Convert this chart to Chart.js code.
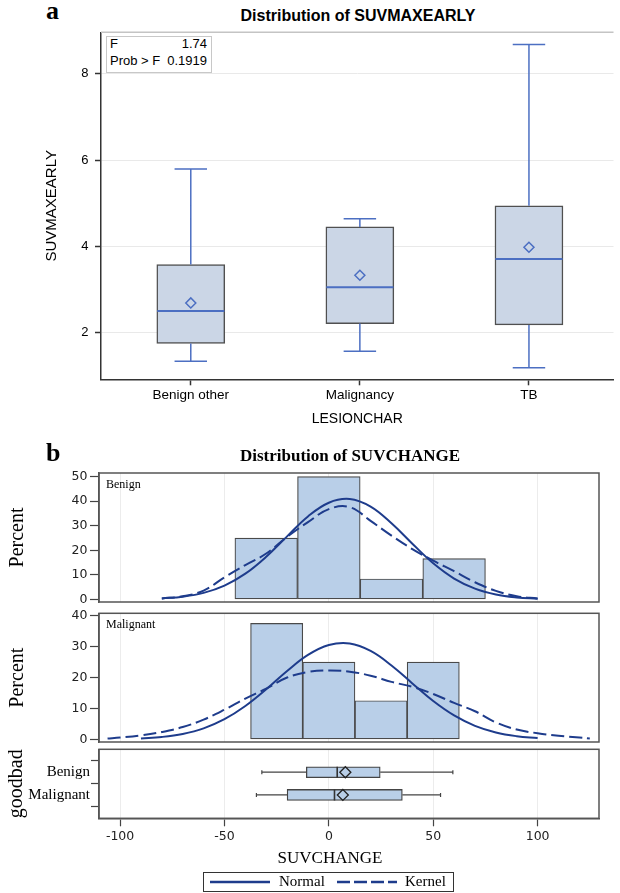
<!DOCTYPE html>
<html>
<head>
<meta charset="utf-8">
<title>Distribution of SUVMAXEARLY / SUVCHANGE</title>
<script src="https://cdn.jsdelivr.net/npm/chart.js@4.4.0/dist/chart.umd.min.js"></script>
<style>
  body { margin: 0; background: #fff; }
  #page { position: relative; width: 620px; height: 893px; overflow: hidden; background: #fff; }
  canvas, .lbl { position: absolute; }
  .lbl { white-space: nowrap; line-height: 1; color: #000; }
  .serif { font-family: "Liberation Serif", "Times New Roman", serif; }
  .sans { font-family: "Liberation Sans", Arial, sans-serif; }
</style>
</head>
<body>
<div id="page">
  <div class="lbl serif" style="left:46px;top:-2px;font-size:26px;font-weight:bold;">a</div>
  <div class="lbl sans" style="left:358px;top:8px;font-size:16px;font-weight:bold;transform:translateX(-50%);">Distribution of SUVMAXEARLY</div>

  <canvas id="chartA" width="620" height="440" style="left:0;top:0;"></canvas>

  <div class="lbl" style="left:106px;top:36px;width:106px;height:37px;border:1px solid #c8c8c8;box-sizing:border-box;background:#fff;"></div>
  <div class="lbl sans" style="left:110px;top:37px;width:97px;font-size:13px;display:flex;justify-content:space-between;"><span>F</span><span>1.74</span></div>
  <div class="lbl sans" style="left:110px;top:54px;width:97px;font-size:13px;display:flex;justify-content:space-between;"><span>Prob &gt; F</span><span>0.1919</span></div>

  <div class="lbl serif" style="left:46px;top:440px;font-size:26px;font-weight:bold;">b</div>
  <div class="lbl serif" style="left:350px;top:447px;font-size:17px;font-weight:bold;transform:translateX(-50%);">Distribution of SUVCHANGE</div>

  <canvas id="histBenign" width="620" height="150" style="left:0;top:462px;"></canvas>
  <canvas id="histMalig" width="620" height="150" style="left:0;top:602px;"></canvas>
  <canvas id="boxChange" width="620" height="114" style="left:0;top:738px;"></canvas>

  <div class="lbl serif" style="left:106px;top:478px;font-size:12px;">Benign</div>
  <div class="lbl serif" style="left:106px;top:618px;font-size:12px;">Malignant</div>
  <div class="lbl serif" style="left:330px;top:849px;font-size:17px;transform:translateX(-50%);">SUVCHANGE</div>

  <div class="lbl" style="left:203px;top:872px;width:251px;height:20px;border:1.5px solid #333;box-sizing:border-box;"></div>
  <svg class="lbl" style="left:208px;top:878px;" width="192" height="8">
    <line x1="2" y1="4" x2="62" y2="4" stroke="#1e3c8c" stroke-width="2.5"/>
    <line x1="129" y1="4" x2="189" y2="4" stroke="#1e3c8c" stroke-width="2.5" stroke-dasharray="13,4"/>
  </svg>
  <div class="lbl serif" style="left:279px;top:874px;font-size:15px;">Normal</div>
  <div class="lbl serif" style="left:405px;top:874px;font-size:15px;">Kernel</div>
</div>

<script>
// panel a: SUVMAXEARLY by LESIONCHAR (box plot stats)
const lesionCats  = ['Benign other', 'Malignancy', 'TB'];
const earlyMin    = [1.34, 1.57, 1.19];
const earlyQ1     = [1.75, 2.21, 2.18];
const earlyMedian = [2.50, 3.05, 3.71];
const earlyQ3     = [3.58, 4.45, 4.94];
const earlyMax    = [5.79, 4.64, 8.68];
const earlyMean   = [2.69, 3.33, 3.98];
const earlyTicks  = [2, 4, 6, 8];

// panel b: SUVCHANGE histograms (percent per bin, bin centres)
const goodbad     = ['Benign', 'Malignant'];
const benignBins  = [-30, 0, 30, 60];
const benignPct   = [25, 50, 8.33, 16.67];
const maligBins   = [-25, 0, 25, 50];
const maligPct    = [37.5, 25, 12.5, 25];

// fitted curves
const benignNormX = [-80, -70, -60, -50, -40, -30, -20, -10, 0, 10, 20, 30, 40, 50, 60, 70, 80, 90, 100];
const benignNormY = [0.43, 1.14, 2.68, 5.63, 10.5, 17.4, 25.7, 33.8, 39.4, 40.9, 37.8, 31.0, 22.7, 14.7, 8.5, 4.4, 2.0, 0.81, 0.29];
const benignKernX = [-80, -70, -60, -50, -40, -30, -20, -10, 0, 10, 20, 30, 40, 50, 60, 70, 80, 90, 100];
const benignKernY = [0.4, 1.3, 3.6, 9, 14, 18.7, 25.5, 31.5, 36.8, 37.6, 32, 26, 20.5, 15.8, 11.5, 7, 3.5, 1.3, 0.4];
const maligNormX  = [-90, -80, -70, -60, -50, -40, -30, -20, -10, 0, 10, 20, 30, 40, 50, 60, 70, 80, 90, 100];
const maligNormY  = [0.33, 0.8, 1.78, 3.58, 6.53, 10.8, 16.2, 22.1, 27.3, 30.5, 31.0, 28.6, 23.9, 18.1, 12.4, 7.75, 4.39, 2.25, 1.05, 0.44];
const maligKernX  = [-106, -100, -90, -80, -70, -60, -50, -40, -30, -20, -10, 0, 10, 20, 30, 40, 50, 60, 70, 80, 90, 100, 110, 120, 125];
const maligKernY  = [0.3, 0.6, 1.3, 2.4, 4, 6.4, 9.6, 13.2, 16.4, 20, 21.8, 22.3, 21.9, 20.6, 18.6, 17, 14.7, 11.8, 9.1, 5.5, 3.2, 2, 1.2, 0.6, 0.3];

// goodbad box plots of SUVCHANGE
const chgMin    = [-32.1, -34.7];
const chgQ1     = [-10.8, -20.0];
const chgMedian = [4.0, 2.7];
const chgQ3     = [24.6, 35.2];
const chgMax    = [59.4, 53.5];
const chgMean   = [7.9, 6.7];

const changeTicks  = [-100, -50, 0, 50, 100];
const benignTicks  = [0, 10, 20, 30, 40, 50];
const maligTicks   = [0, 10, 20, 30, 40];

const SANS = '"Liberation Sans", Arial, sans-serif';
const SERIF = '"Liberation Serif", "Times New Roman", serif';
const TICKFONT = '"DejaVu Sans", sans-serif';
const NAVY = '#1e3c8c';
const BLUE = '#4c6fc2';

// frame / top border drawn around the plot area
const framePlugin = {
  id: 'frame',
  afterDatasetsDraw(chart, args, opts) {
    const { ctx, chartArea: a } = chart;
    ctx.save();
    ctx.strokeStyle = opts.color;
    ctx.lineWidth = opts.width;
    if (opts.full) {
      ctx.strokeRect(a.left, a.top, a.width, a.height);
    } else {
      ctx.beginPath();
      ctx.moveTo(a.left, a.top);
      ctx.lineTo(a.right, a.top);
      ctx.stroke();
    }
    ctx.restore();
  }
};

// turn a list of segments into one line dataset with gaps
function segments(list) {
  const pts = [];
  list.forEach(s => {
    pts.push({ x: s[0], y: s[1] }, { x: s[2], y: s[3] }, { x: s[2], y: null });
  });
  return pts;
}

function tickList(arr) {
  return scale => { scale.ticks = arr.map(v => ({ value: v })); };
}

// ---------- panel a ----------
const boxHalf = 0.1985, capHalf = 0.096;
const aWhiskers = [], aMedians = [];
lesionCats.forEach((c, i) => {
  aWhiskers.push([i, earlyQ3[i], i, earlyMax[i]], [i - capHalf, earlyMax[i], i + capHalf, earlyMax[i]]);
  aWhiskers.push([i, earlyQ1[i], i, earlyMin[i]], [i - capHalf, earlyMin[i], i + capHalf, earlyMin[i]]);
  aMedians.push([i - boxHalf, earlyMedian[i], i + boxHalf, earlyMedian[i]]);
});

new Chart(document.getElementById('chartA'), {
  type: 'bar',
  data: {
    datasets: [{
      data: lesionCats.map((c, i) => ({ x: i, y: [earlyQ1[i], earlyQ3[i]] })),
      backgroundColor: '#cbd6e6',
      borderColor: '#505050',
      borderWidth: 1.5,
      borderSkipped: false,
      barThickness: 68,
      order: 3
    }, {
      type: 'line',
      data: segments(aWhiskers),
      borderColor: BLUE,
      borderWidth: 1.5,
      pointRadius: 0,
      spanGaps: false,
      order: 1
    }, {
      type: 'line',
      data: segments(aMedians),
      borderColor: BLUE,
      borderWidth: 2,
      pointRadius: 0,
      spanGaps: false,
      order: 1
    }, {
      type: 'line',
      data: lesionCats.map((c, i) => ({ x: i, y: earlyMean[i] })),
      showLine: false,
      pointStyle: 'rectRot',
      pointRadius: 5,
      pointBackgroundColor: 'rgba(0,0,0,0)',
      pointBorderColor: BLUE,
      pointBorderWidth: 1.5,
      order: 0
    }]
  },
  options: {
    responsive: false,
    animation: false,
    devicePixelRatio: 1,
    layout: { padding: { top: 32.3, right: 0, bottom: 0, left: 0 } },
    plugins: {
      legend: { display: false },
      tooltip: { enabled: false },
      frame: { color: '#c4c4c4', width: 1.5, full: false }
    },
    scales: {
      x: {
        type: 'linear',
        min: -0.531, max: 2.5,
        offset: false,
        afterBuildTicks: tickList(lesionCats.map((c, i) => i)),
        afterFit: s => { s.height = 60.7; },
        ticks: {
          callback: v => lesionCats[v],
          font: { family: SANS, size: 13.5 },
          color: '#000',
          padding: 2,
          maxRotation: 0,
          autoSkip: false
        },
        grid: { drawOnChartArea: false, tickLength: 6, tickColor: '#333', tickWidth: 1.5, offset: false },
        border: { color: '#333', width: 1.5 },
        title: { display: true, text: 'LESIONCHAR', font: { family: SANS, size: 14 }, color: '#000', padding: { top: 0, bottom: 12.6 } }
      },
      y: {
        type: 'linear',
        min: 0.92, max: 8.96,
        beginAtZero: false,
        afterBuildTicks: tickList(earlyTicks),
        afterFit: s => { s.width = 101; },
        ticks: { font: { family: SANS, size: 13 }, color: '#000', padding: 6.5 },
        grid: { color: '#e9e9e9', tickLength: 6, tickColor: '#333', tickWidth: 1.5 },
        border: { color: '#333', width: 1.5 },
        title: { display: true, text: 'SUVMAXEARLY', font: { family: SANS, size: 15 }, color: '#000', padding: { top: 43, bottom: 0 } }
      }
    }
  },
  plugins: [framePlugin]
});

// ---------- panel b histograms ----------
function histChart(id, bins, pct, normX, normY, kernX, kernY, yTicks, yMin, yMax, padTop) {
  return new Chart(document.getElementById(id), {
    type: 'bar',
    data: {
      datasets: [{
        data: bins.map((b, i) => ({ x: b, y: pct[i] })),
        backgroundColor: '#b9cfe8',
        borderColor: '#4a4a4a',
        borderWidth: 1.2,
        borderSkipped: false,
        barPercentage: 1,
        categoryPercentage: 1,
        order: 3
      }, {
        type: 'line',
        data: normX.map((x, i) => ({ x: x, y: normY[i] })),
        borderColor: NAVY,
        borderWidth: 2,
        pointRadius: 0,
        tension: 0.4,
        order: 1
      }, {
        type: 'line',
        data: kernX.map((x, i) => ({ x: x, y: kernY[i] })),
        borderColor: NAVY,
        borderWidth: 2,
        borderDash: [13, 5],
        pointRadius: 0,
        tension: 0.4,
        order: 1
      }]
    },
    options: {
      responsive: false,
      animation: false,
      devicePixelRatio: 1,
      layout: { padding: { top: padTop, right: 21, bottom: 7.7, left: 0 } },
      plugins: {
        legend: { display: false },
        tooltip: { enabled: false },
        frame: { color: '#555', width: 1.5, full: true }
      },
      scales: {
        x: {
          type: 'linear',
          min: -110.1, max: 129.4,
          offset: false,
          afterBuildTicks: tickList(changeTicks),
          afterFit: s => { s.height = 0; },
          ticks: { display: false },
          grid: { color: '#ececec', drawTicks: false, offset: false },
          border: { display: false }
        },
        y: {
          type: 'linear',
          min: yMin, max: yMax,
          beginAtZero: false,
          afterBuildTicks: tickList(yTicks),
          afterFit: s => { s.width = 99; },
          ticks: { font: { family: TICKFONT, size: 12.5 }, color: '#222', padding: 2.5 },
          grid: { drawOnChartArea: false, tickLength: 9, tickColor: '#444', tickWidth: 1.2 },
          border: { color: '#555', width: 1.5 },
          title: { display: true, text: 'Percent', font: { family: SERIF, size: 20 }, color: '#000', padding: { top: 5.5, bottom: 0 } }
        }
      }
    },
    plugins: [framePlugin]
  });
}

histChart('histBenign', benignBins, benignPct, benignNormX, benignNormY, benignKernX, benignKernY, benignTicks, -1.04, 51.5, 11);
histChart('histMalig', maligBins, maligPct, maligNormX, maligNormY, maligKernX, maligKernY, maligTicks, -0.83, 40.76, 11.3);

// ---------- panel b box plots ----------
const medHalf = 0.242, tickHalf = 0.09;
const bWhiskers = [], bMedians = [];
goodbad.forEach((g, i) => {
  bWhiskers.push([chgMin[i], i, chgQ1[i], i], [chgQ3[i], i, chgMax[i], i]);
  bWhiskers.push([chgMin[i], i - tickHalf, chgMin[i], i + tickHalf], [chgMax[i], i - tickHalf, chgMax[i], i + tickHalf]);
  bMedians.push([chgMedian[i], i - medHalf, chgMedian[i], i + medHalf]);
});

new Chart(document.getElementById('boxChange'), {
  type: 'bar',
  data: {
    datasets: [{
      indexAxis: 'y',
      data: goodbad.map((g, i) => ({ y: i, x: [chgQ1[i], chgQ3[i]] })),
      backgroundColor: '#b9cfe8',
      borderColor: '#444',
      borderWidth: 1.3,
      borderSkipped: false,
      barThickness: 11,
      order: 3
    }, {
      type: 'line',
      data: segments(bWhiskers),
      borderColor: '#444',
      borderWidth: 1.2,
      pointRadius: 0,
      spanGaps: false,
      order: 1
    }, {
      type: 'line',
      data: segments(bMedians),
      borderColor: '#333',
      borderWidth: 1.6,
      pointRadius: 0,
      spanGaps: false,
      order: 1
    }, {
      type: 'line',
      data: goodbad.map((g, i) => ({ x: chgMean[i], y: i })),
      showLine: false,
      pointStyle: 'rectRot',
      pointRadius: 5.5,
      pointBackgroundColor: 'rgba(0,0,0,0)',
      pointBorderColor: '#222',
      pointBorderWidth: 1.3,
      order: 0
    }]
  },
  options: {
    responsive: false,
    animation: false,
    devicePixelRatio: 1,
    layout: { padding: { top: 11.3, right: 21, bottom: 0, left: 0 } },
    plugins: {
      legend: { display: false },
      tooltip: { enabled: false },
      frame: { color: '#555', width: 1.5, full: true }
    },
    scales: {
      x: {
        type: 'linear',
        min: -110.1, max: 129.4,
        offset: false,
        afterBuildTicks: tickList(changeTicks),
        afterFit: s => { s.height = 33.7; },
        ticks: { font: { family: TICKFONT, size: 12.5 }, color: '#222', padding: 3, maxRotation: 0 },
        grid: { color: '#ececec', tickLength: 8, tickColor: '#444', tickWidth: 1.2, offset: false },
        border: { color: '#555', width: 1.5 }
      },
      y: {
        type: 'linear',
        min: -1.01, max: 2.03,
        reverse: true,
        offset: false,
        afterBuildTicks: tickList(goodbad.map((g, i) => i)),
        afterFit: s => { s.width = 99; },
        ticks: { callback: v => goodbad[v], font: { family: SERIF, size: 15 }, color: '#000', padding: 1 },
        grid: { drawOnChartArea: false, tickLength: 8, tickColor: '#444', tickWidth: 1.2 },
        border: { color: '#555', width: 1.5 },
        title: { display: true, text: 'goodbad', font: { family: SERIF, size: 20 }, color: '#000', padding: { top: 4.7, bottom: 0 } }
      }
    }
  },
  plugins: [framePlugin]
});
</script>
</body>
</html>
